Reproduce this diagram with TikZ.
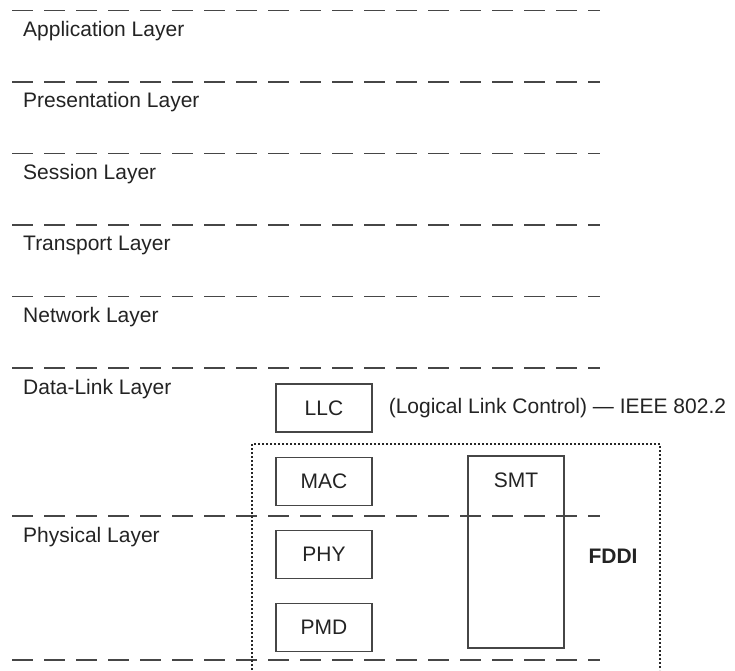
\documentclass[tikz,border=0pt]{standalone}
\usepackage{fontspec}
\setmainfont{Liberation Sans}
\usetikzlibrary{positioning}
\definecolor{layerline}{RGB}{70,70,70}
\definecolor{layertext}{RGB}{35,35,35}

\begin{document}
\begin{tikzpicture}[x=1pt,y=-1pt,line cap=butt,
  layersep/.style={draw=layerline,line width=1.4pt,dash pattern=on 21pt off 11pt},
  layerlabel/.style={anchor=base west,inner sep=0pt,text=layertext,font=\fontsize{21}{25}\selectfont},
  unitbox/.style={draw=layerline,line width=1.1pt,minimum width=96pt,minimum height=48pt,
   inner sep=0pt,text=layertext,font=\fontsize{21}{25}\selectfont},
  fddiframe/.style={draw=black!85,line width=2pt,dash pattern=on 2pt off 2pt}]
 \useasboundingbox (0,0) rectangle (735,670);
 % separators between the OSI layers
 \foreach \y in {10.5,82,153.5,225,296.5,368,516,660}
  \draw[layersep] (12,\y) -- (600,\y);
 \foreach \y/\name/\txt in {36/app/Application Layer,107.5/pres/Presentation Layer,
   179/sess/Session Layer,250.5/trans/Transport Layer,322/net/Network Layer,
   394/dlink/Data-Link Layer,542/phys/Physical Layer}
  \node[layerlabel] (\name) at (23,\y) {\txt};
 % FDDI stack
 \node[unitbox] (llc) at (324,408) {LLC};
 \node[layerlabel,anchor=west,right=16pt of llc] (llcdesc) {(Logical Link Control) --- IEEE 802.2};
 \node[unitbox,below=24pt of llc] (mac) {MAC};
 \node[unitbox,below=24pt of mac] (phy) {PHY};
 \node[unitbox,below=24pt of phy] (pmd) {PMD};
 \node[unitbox,minimum height=192pt] (smt) at (516,552) {};
 \node[layerlabel,anchor=center] (smtlabel) at ([yshift=-25pt]smt.north) {SMT};
 \draw[fddiframe] (252,670) |- (660,444) -- (660,670);
 \node[layerlabel,anchor=center,font=\fontsize{21}{25}\selectfont\bfseries] (fddi) at (613,556) {FDDI};
\end{tikzpicture}
\end{document}
